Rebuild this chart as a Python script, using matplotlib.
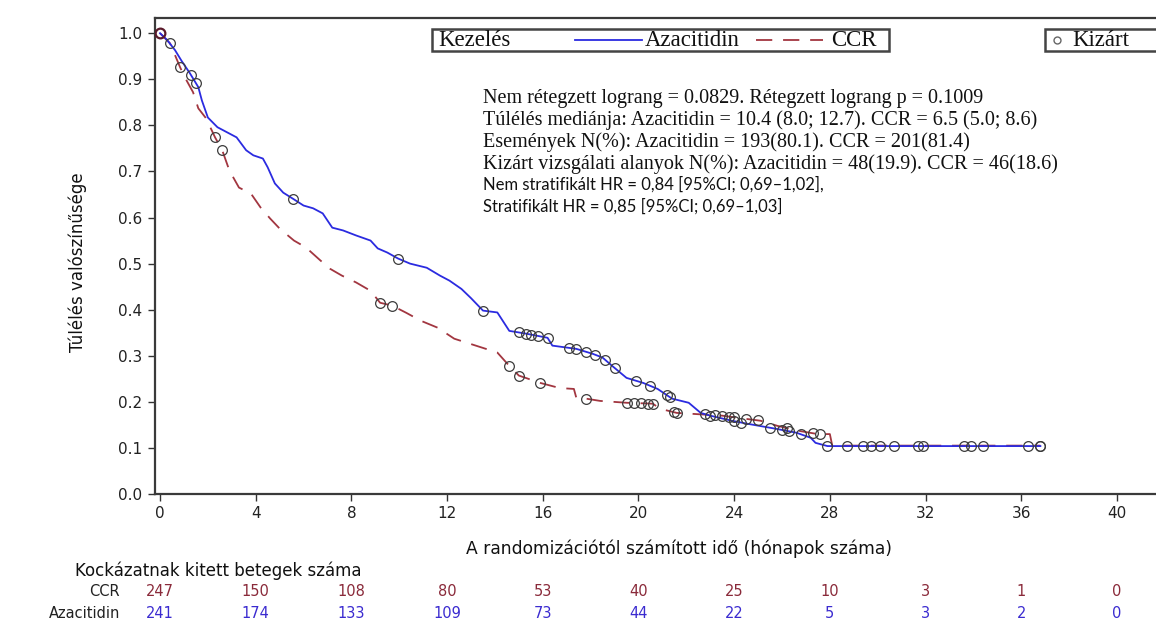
import numpy
from matplotlib import pyplot
from matplotlib import transforms
from matplotlib.lines import Line2D
from matplotlib.offsetbox import AnchoredOffsetbox, HPacker, TextArea, DrawingArea

# Kaplan-Meier curves (time in months, survival probability)
aza_t = [0.0, 0.3, 0.63, 0.9, 1.25, 1.6, 1.75, 2.0, 2.4, 3.2, 3.6, 3.9, 4.3, 4.5, 4.8, 5.15,
         5.55, 6.0, 6.4, 6.8, 7.2, 7.65, 8.2, 8.8, 9.1, 9.5, 9.95, 10.45, 11.15, 11.7, 12.1,
         12.6, 13.0, 13.5, 14.1, 14.6, 15.3, 16.2, 16.4, 17.4, 18.1, 18.5, 18.9, 19.5, 20.2,
         20.8, 21.4, 22.1, 22.6, 23.0, 23.9, 24.6, 25.8, 26.6, 27.2, 27.4, 27.9, 36.8]
aza_s = [1.0, 0.985, 0.963, 0.94, 0.913, 0.883, 0.854, 0.817, 0.796, 0.774, 0.746, 0.735,
         0.728, 0.709, 0.674, 0.654, 0.641, 0.626, 0.62, 0.609, 0.578, 0.572, 0.561, 0.55,
         0.533, 0.524, 0.511, 0.5, 0.491, 0.474, 0.463, 0.445, 0.425, 0.398, 0.394, 0.354,
         0.348, 0.339, 0.322, 0.315, 0.304, 0.296, 0.278, 0.252, 0.241, 0.228, 0.207, 0.198,
         0.176, 0.17, 0.159, 0.152, 0.141, 0.133, 0.122, 0.111, 0.104, 0.104]
aza_cens = [1.3, 1.5, 5.55, 9.95, 13.5, 15.0, 15.3, 15.5, 15.8, 16.2, 17.1, 17.4, 17.8, 18.2,
            18.6, 19.0, 19.9, 20.5, 21.2, 21.3, 22.8, 23.0, 24.0, 24.3, 25.5, 26.0, 26.3, 26.8,
            27.9, 30.7, 33.9, 34.4, 36.3, 36.8]

ccr_t = [0.0, 0.42, 0.84, 1.04, 1.38, 1.6, 1.9, 2.1, 2.3, 2.6, 2.9, 3.3, 3.8, 4.2, 4.6, 5.0,
         5.6, 6.1, 6.7, 7.1, 7.6, 8.2, 8.8, 9.2, 9.7, 10.3, 10.9, 11.6, 12.3, 13.2, 14.1, 14.6,
         15.0, 15.9, 16.7, 17.3, 17.4, 17.8, 18.4, 19.5, 20.6, 20.9, 21.6, 23.5, 24.2, 25.1,
         25.8, 26.7, 27.5, 28.0, 28.1, 36.8]
ccr_s = [1.0, 0.978, 0.926, 0.904, 0.872, 0.837, 0.817, 0.796, 0.774, 0.746, 0.702, 0.665,
         0.652, 0.622, 0.598, 0.576, 0.55, 0.535, 0.507, 0.489, 0.474, 0.459, 0.441, 0.415,
         0.409, 0.393, 0.376, 0.361, 0.337, 0.322, 0.307, 0.278, 0.257, 0.241, 0.23, 0.228,
         0.209, 0.207, 0.202, 0.198, 0.196, 0.185, 0.176, 0.17, 0.165, 0.159, 0.148, 0.137,
         0.13, 0.13, 0.105, 0.105]
ccr_cens = [0.42, 0.84, 2.3, 2.6, 9.2, 9.7, 14.6, 15.0, 15.9, 17.8, 19.5, 19.8, 20.1, 20.4,
            20.6, 21.5, 21.6, 23.2, 23.5, 23.8, 24.0, 24.5, 25.0, 26.2, 27.3, 27.6, 28.7, 29.4,
            29.7, 30.1, 31.7, 31.9, 33.6, 36.8]

risk_times = [0, 4, 8, 12, 16, 20, 24, 28, 32, 36, 40]
ccr_risk = [247, 150, 108, 80, 53, 40, 25, 10, 3, 1, 0]
aza_risk = [241, 174, 133, 109, 73, 44, 22, 5, 3, 2, 0]

aza_color = "#2b2be0"
ccr_color = "#a23640"
cens_color = "#3c3c3c"
risk_ccr_color = "#8a2a3a"
risk_aza_color = "#3b2bd0"
ccr_dashes = (9, 6)

W, H = 1156, 626
fig = pyplot.figure(figsize=(W/100.0, H/100.0), dpi=100)
ax = fig.add_axes([155.0/W, 1-494.0/H, (1160.0-155.0)/W, (494.0-18.0)/H])

ax.plot(aza_t, aza_s, color=aza_color, linewidth=1.3, zorder=3)
ax.plot(ccr_t, ccr_s, color=ccr_color, linewidth=1.3, dashes=ccr_dashes, zorder=2)
marker_style = dict(linestyle="none", marker="o", markersize=7, markerfacecolor="none",
                    markeredgecolor=cens_color, markeredgewidth=0.9, zorder=4)
ax.plot(aza_cens, numpy.interp(aza_cens, aza_t, aza_s), **marker_style)
ax.plot(ccr_cens, numpy.interp(ccr_cens, ccr_t, ccr_s), **marker_style)
# starting point
ax.plot([0.0], [1.0], linestyle="none", marker="o", markersize=7,
        markerfacecolor="none", markeredgecolor="#5a1a2a", markeredgewidth=1.6, zorder=5)

ax.set_xlim(-0.21, 41.8)
ax.set_ylim(0.0, 1.033)
ax.set_xticks(risk_times)
ax.set_yticks(numpy.arange(0.0, 1.01, 0.1))
ax.set_yticklabels(["%.1f" % v for v in numpy.arange(0.0, 1.01, 0.1)])
ax.tick_params(axis="both", direction="out", length=5, width=1.0, color="#333333",
               labelsize=11, labelcolor="#222222", pad=4)
for name in ["left", "bottom", "top"]:
    ax.spines[name].set_linewidth(1.6)
    ax.spines[name].set_color("#3a3a3a")
ax.spines["right"].set_visible(False)

fig.text(78.0/W, 1-262.0/H, "Túlélés valószínűsége", rotation=90, ha="center", va="center",
         fontsize=12, color="#111111")
fig.text(679.0/W, 1-549.0/H, "A randomizációtól számított idő (hónapok száma)",
         ha="center", va="center", fontsize=12.3, color="#111111")

# legend box
serif = {"family": "Liberation Serif", "size": 16.5, "color": "#111111"}
pt = 0.72
da0 = DrawingArea(6*pt, 10, 0, 0)
da1 = DrawingArea(134*pt, 10, 0, 0)
da1.add_artist(Line2D([64*pt, 131*pt], [5, 5], color=aza_color, linewidth=1.3))
da2 = DrawingArea(91*pt, 10, 0, 0)
da2.add_artist(Line2D([16*pt, 83*pt], [5, 5], color=ccr_color, linewidth=1.3,
                      dashes=ccr_dashes))
da5 = DrawingArea(12*pt, 10, 0, 0)
leg_box = HPacker(children=[da0, TextArea("Kezelés", textprops=serif), da1,
                            TextArea("Azacitidin", textprops=serif), da2,
                            TextArea("CCR", textprops=serif), da5],
                  align="center", pad=0, sep=0)
leg = AnchoredOffsetbox(loc="upper left", child=leg_box, pad=0.05, borderpad=0, frameon=True,
                        bbox_to_anchor=(432.0/W, 1-29.0/H), bbox_transform=fig.transFigure)
leg.patch.set_linewidth(1.8)
leg.patch.set_edgecolor("#444444")
fig.add_artist(leg)

da3 = DrawingArea(18*pt, 10, 0, 0)
da3.add_artist(Line2D([11*pt], [5], linestyle="none", marker="o", markersize=5,
                      markerfacecolor="none", markeredgecolor="#666666", markeredgewidth=1.0))
da4 = DrawingArea(40*pt, 10, 0, 0)
cens_box = HPacker(children=[da3, TextArea("Kizárt", textprops=serif), da4],
                   align="center", pad=0, sep=6)
cens_leg = AnchoredOffsetbox(loc="upper left", child=cens_box, pad=0.05, borderpad=0,
                             frameon=True, bbox_to_anchor=(1045.0/W, 1-29.0/H),
                             bbox_transform=fig.transFigure)
cens_leg.patch.set_linewidth(1.8)
cens_leg.patch.set_edgecolor("#444444")
fig.add_artist(cens_leg)

# statistics text
fig.text(483.0/W, 1-89.0/H,
         "Nem rétegzett lograng = 0.0829. Rétegzett lograng p = 0.1009\n"
         "Túlélés mediánja: Azacitidin = 10.4 (8.0; 12.7). CCR = 6.5 (5.0; 8.6)\n"
         "Események N(%): Azacitidin = 193(80.1). CCR = 201(81.4)\n"
         "Kizárt vizsgálati alanyok N(%): Azacitidin = 48(19.9). CCR = 46(18.6)",
         ha="left", va="top", family="Liberation Serif", fontsize=14.5, linespacing=1.15,
         color="#111111")
fig.text(483.0/W, 1-176.0/H,
         "Nem stratifikált HR = 0,84 [95%CI; 0,69–1,02],\n"
         "Stratifikált HR = 0,85 [95%CI; 0,69–1,03]",
         ha="left", va="top", family="Lato", fontsize=12, linespacing=1.45,
         color="#111111")

# number at risk table
trans = transforms.blended_transform_factory(ax.transData, fig.transFigure)
fig.text(75.0/W, 1-571.0/H, "Kockázatnak kitett betegek száma", ha="left", va="center",
         fontsize=12, color="#111111")
fig.text(120.0/W, 1-592.0/H, "CCR", ha="right", va="center", fontsize=10.5, color="#222222")
fig.text(120.0/W, 1-613.0/H, "Azacitidin", ha="right", va="center", fontsize=10.5,
         color="#222222")
for t, n in zip(risk_times, ccr_risk):
    ax.text(t, 1-592.0/H, str(n), transform=trans, ha="center", va="center", fontsize=10.5,
            color=risk_ccr_color, clip_on=False)
for t, n in zip(risk_times, aza_risk):
    ax.text(t, 1-613.0/H, str(n), transform=trans, ha="center", va="center", fontsize=10.5,
            color=risk_aza_color, clip_on=False)

fig.savefig("out.png", dpi=100)
